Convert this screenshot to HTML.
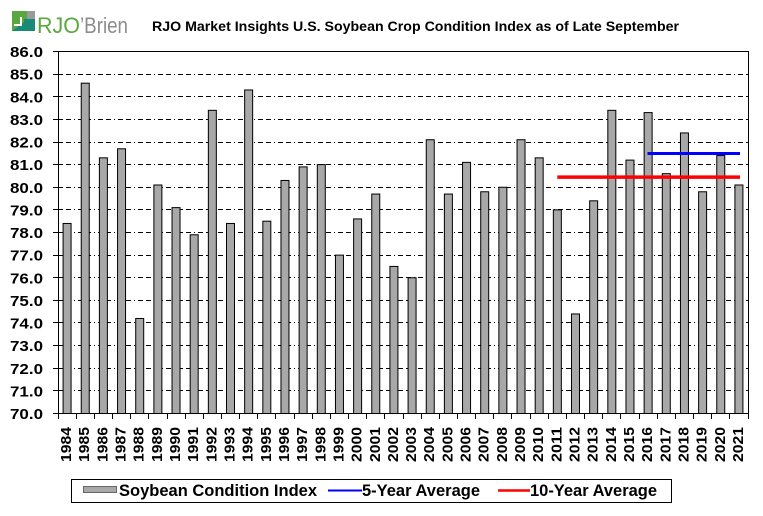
<!DOCTYPE html>
<html><head><meta charset="utf-8"><style>
html,body{margin:0;padding:0;background:#fff;}
svg{display:block;}
text{font-family:"Liberation Sans",Arial,sans-serif;}
</style></head><body>
<svg width="763" height="516" viewBox="0 0 763 516" xmlns="http://www.w3.org/2000/svg">
<rect width="763" height="516" fill="#fff"/>
<!-- logo -->
<g>
<rect x="12" y="11" width="15" height="20" fill="#5aa73f"/>
<rect x="27" y="11" width="8" height="8" fill="#9a9a9a"/>
<rect x="24" y="19" width="11" height="12" fill="#1a8a78"/>
<polygon points="12,31 24,22 24,31" fill="#1a8a78"/>
<rect x="20" y="17" width="2" height="9" fill="#fff"/>
<rect x="14" y="24" width="8" height="2" fill="#fff"/>
<text x="37" y="33" font-size="22" fill="#5aa73f" textLength="43" lengthAdjust="spacingAndGlyphs">RJO</text>
<text x="80" y="33" font-size="22" fill="#8c8c8c" textLength="48" lengthAdjust="spacingAndGlyphs">’Brien</text>
</g>
<text x="152" y="31" font-size="14.2" font-weight="bold" fill="#000" textLength="527" lengthAdjust="spacingAndGlyphs">RJO Market Insights U.S. Soybean Crop Condition Index as of Late September</text>

<!-- gridlines -->
<g stroke="#000" stroke-width="1" stroke-dasharray="5,3,5,3,1,3" shape-rendering="crispEdges">
<line x1="58" x2="748" y1="390.5" y2="390.5"/>
<line x1="58" x2="748" y1="368.5" y2="368.5"/>
<line x1="58" x2="748" y1="345.5" y2="345.5"/>
<line x1="58" x2="748" y1="322.5" y2="322.5"/>
<line x1="58" x2="748" y1="300.5" y2="300.5"/>
<line x1="58" x2="748" y1="277.5" y2="277.5"/>
<line x1="58" x2="748" y1="255.5" y2="255.5"/>
<line x1="58" x2="748" y1="232.5" y2="232.5"/>
<line x1="58" x2="748" y1="209.5" y2="209.5"/>
<line x1="58" x2="748" y1="187.5" y2="187.5"/>
<line x1="58" x2="748" y1="164.5" y2="164.5"/>
<line x1="58" x2="748" y1="142.5" y2="142.5"/>
<line x1="58" x2="748" y1="119.5" y2="119.5"/>
<line x1="58" x2="748" y1="96.5" y2="96.5"/>
<line x1="58" x2="748" y1="74.5" y2="74.5"/>
</g>
<!-- y ticks -->
<g stroke="#000" stroke-width="1" shape-rendering="crispEdges">
<line x1="53" x2="58" y1="413.5" y2="413.5"/>
<line x1="53" x2="58" y1="390.5" y2="390.5"/>
<line x1="53" x2="58" y1="368.5" y2="368.5"/>
<line x1="53" x2="58" y1="345.5" y2="345.5"/>
<line x1="53" x2="58" y1="322.5" y2="322.5"/>
<line x1="53" x2="58" y1="300.5" y2="300.5"/>
<line x1="53" x2="58" y1="277.5" y2="277.5"/>
<line x1="53" x2="58" y1="255.5" y2="255.5"/>
<line x1="53" x2="58" y1="232.5" y2="232.5"/>
<line x1="53" x2="58" y1="209.5" y2="209.5"/>
<line x1="53" x2="58" y1="187.5" y2="187.5"/>
<line x1="53" x2="58" y1="164.5" y2="164.5"/>
<line x1="53" x2="58" y1="142.5" y2="142.5"/>
<line x1="53" x2="58" y1="119.5" y2="119.5"/>
<line x1="53" x2="58" y1="96.5" y2="96.5"/>
<line x1="53" x2="58" y1="74.5" y2="74.5"/>
<line x1="53" x2="58" y1="51.5" y2="51.5"/>
</g>

<!-- bars -->
<g fill="#a8a8a8" stroke="#000" stroke-width="1">
<rect x="63.08" y="223.45" width="8" height="190.05"/>
<rect x="81.24" y="83.17" width="8" height="330.33"/>
<rect x="99.39" y="157.84" width="8" height="255.66"/>
<rect x="117.55" y="148.79" width="8" height="264.71"/>
<rect x="135.71" y="318.47" width="8" height="95.03"/>
<rect x="153.87" y="184.99" width="8" height="228.51"/>
<rect x="172.03" y="207.61" width="8" height="205.89"/>
<rect x="190.18" y="234.76" width="8" height="178.74"/>
<rect x="208.34" y="110.32" width="8" height="303.18"/>
<rect x="226.50" y="223.45" width="8" height="190.05"/>
<rect x="244.66" y="89.96" width="8" height="323.54"/>
<rect x="262.82" y="221.19" width="8" height="192.31"/>
<rect x="280.97" y="180.46" width="8" height="233.04"/>
<rect x="299.13" y="166.89" width="8" height="246.61"/>
<rect x="317.29" y="164.62" width="8" height="248.88"/>
<rect x="335.45" y="255.12" width="8" height="158.38"/>
<rect x="353.61" y="218.92" width="8" height="194.58"/>
<rect x="371.76" y="194.04" width="8" height="219.46"/>
<rect x="389.92" y="266.44" width="8" height="147.06"/>
<rect x="408.08" y="277.75" width="8" height="135.75"/>
<rect x="426.24" y="139.74" width="8" height="273.76"/>
<rect x="444.39" y="194.04" width="8" height="219.46"/>
<rect x="462.55" y="162.36" width="8" height="251.14"/>
<rect x="480.71" y="191.77" width="8" height="221.73"/>
<rect x="498.87" y="187.25" width="8" height="226.25"/>
<rect x="517.03" y="139.74" width="8" height="273.76"/>
<rect x="535.18" y="157.84" width="8" height="255.66"/>
<rect x="553.34" y="209.87" width="8" height="203.63"/>
<rect x="571.50" y="313.95" width="8" height="99.55"/>
<rect x="589.66" y="200.82" width="8" height="212.68"/>
<rect x="607.82" y="110.32" width="8" height="303.18"/>
<rect x="625.97" y="160.10" width="8" height="253.40"/>
<rect x="644.13" y="112.59" width="8" height="300.91"/>
<rect x="662.29" y="173.67" width="8" height="239.83"/>
<rect x="680.45" y="132.95" width="8" height="280.55"/>
<rect x="698.61" y="191.77" width="8" height="221.73"/>
<rect x="716.76" y="155.57" width="8" height="257.93"/>
<rect x="734.92" y="184.99" width="8" height="228.51"/>
</g>

<!-- average lines -->
<line x1="557.3" x2="740" y1="177.1" y2="177.1" stroke="#ff0000" stroke-width="3.5"/>
<line x1="647.5" x2="740" y1="153.5" y2="153.5" stroke="#0000ff" stroke-width="3"/>

<!-- frame -->
<g stroke="#000" stroke-width="1" fill="none" shape-rendering="crispEdges">
<line x1="58" x2="748" y1="51.5" y2="51.5"/>
<line x1="748.5" x2="748.5" y1="51" y2="414"/>
<line x1="58.5" x2="58.5" y1="51" y2="414"/>
<line x1="58" x2="749" y1="413.5" y2="413.5"/>
</g>
<!-- x ticks -->
<g stroke="#000" stroke-width="1" shape-rendering="crispEdges">
<line x1="58.5" x2="58.5" y1="413" y2="419"/>
<line x1="76.5" x2="76.5" y1="413" y2="419"/>
<line x1="94.5" x2="94.5" y1="413" y2="419"/>
<line x1="112.5" x2="112.5" y1="413" y2="419"/>
<line x1="130.5" x2="130.5" y1="413" y2="419"/>
<line x1="148.5" x2="148.5" y1="413" y2="419"/>
<line x1="167.5" x2="167.5" y1="413" y2="419"/>
<line x1="185.5" x2="185.5" y1="413" y2="419"/>
<line x1="203.5" x2="203.5" y1="413" y2="419"/>
<line x1="221.5" x2="221.5" y1="413" y2="419"/>
<line x1="239.5" x2="239.5" y1="413" y2="419"/>
<line x1="257.5" x2="257.5" y1="413" y2="419"/>
<line x1="275.5" x2="275.5" y1="413" y2="419"/>
<line x1="294.5" x2="294.5" y1="413" y2="419"/>
<line x1="312.5" x2="312.5" y1="413" y2="419"/>
<line x1="330.5" x2="330.5" y1="413" y2="419"/>
<line x1="348.5" x2="348.5" y1="413" y2="419"/>
<line x1="366.5" x2="366.5" y1="413" y2="419"/>
<line x1="384.5" x2="384.5" y1="413" y2="419"/>
<line x1="403.5" x2="403.5" y1="413" y2="419"/>
<line x1="421.5" x2="421.5" y1="413" y2="419"/>
<line x1="439.5" x2="439.5" y1="413" y2="419"/>
<line x1="457.5" x2="457.5" y1="413" y2="419"/>
<line x1="475.5" x2="475.5" y1="413" y2="419"/>
<line x1="493.5" x2="493.5" y1="413" y2="419"/>
<line x1="511.5" x2="511.5" y1="413" y2="419"/>
<line x1="530.5" x2="530.5" y1="413" y2="419"/>
<line x1="548.5" x2="548.5" y1="413" y2="419"/>
<line x1="566.5" x2="566.5" y1="413" y2="419"/>
<line x1="584.5" x2="584.5" y1="413" y2="419"/>
<line x1="602.5" x2="602.5" y1="413" y2="419"/>
<line x1="620.5" x2="620.5" y1="413" y2="419"/>
<line x1="639.5" x2="639.5" y1="413" y2="419"/>
<line x1="657.5" x2="657.5" y1="413" y2="419"/>
<line x1="675.5" x2="675.5" y1="413" y2="419"/>
<line x1="693.5" x2="693.5" y1="413" y2="419"/>
<line x1="711.5" x2="711.5" y1="413" y2="419"/>
<line x1="729.5" x2="729.5" y1="413" y2="419"/>
<line x1="748.5" x2="748.5" y1="413" y2="419"/>
</g>

<!-- y labels -->
<g font-size="15" font-weight="bold" fill="#000" text-anchor="end">
<text x="43" y="419" textLength="33" lengthAdjust="spacingAndGlyphs">70.0</text>
<text x="43" y="396.4" textLength="33" lengthAdjust="spacingAndGlyphs">71.0</text>
<text x="43" y="373.8" textLength="33" lengthAdjust="spacingAndGlyphs">72.0</text>
<text x="43" y="351.1" textLength="33" lengthAdjust="spacingAndGlyphs">73.0</text>
<text x="43" y="328.5" textLength="33" lengthAdjust="spacingAndGlyphs">74.0</text>
<text x="43" y="305.9" textLength="33" lengthAdjust="spacingAndGlyphs">75.0</text>
<text x="43" y="283.3" textLength="33" lengthAdjust="spacingAndGlyphs">76.0</text>
<text x="43" y="260.6" textLength="33" lengthAdjust="spacingAndGlyphs">77.0</text>
<text x="43" y="238" textLength="33" lengthAdjust="spacingAndGlyphs">78.0</text>
<text x="43" y="215.4" textLength="33" lengthAdjust="spacingAndGlyphs">79.0</text>
<text x="43" y="192.8" textLength="33" lengthAdjust="spacingAndGlyphs">80.0</text>
<text x="43" y="170.1" textLength="33" lengthAdjust="spacingAndGlyphs">81.0</text>
<text x="43" y="147.5" textLength="33" lengthAdjust="spacingAndGlyphs">82.0</text>
<text x="43" y="124.9" textLength="33" lengthAdjust="spacingAndGlyphs">83.0</text>
<text x="43" y="102.3" textLength="33" lengthAdjust="spacingAndGlyphs">84.0</text>
<text x="43" y="79.6" textLength="33" lengthAdjust="spacingAndGlyphs">85.0</text>
<text x="43" y="57" textLength="33" lengthAdjust="spacingAndGlyphs">86.0</text>
</g>

<!-- x labels -->
<g font-size="15" font-weight="bold" fill="#000" text-anchor="end">
<text transform="translate(71.08,427) rotate(-90)" textLength="35" lengthAdjust="spacingAndGlyphs">1984</text>
<text transform="translate(89.24,427) rotate(-90)" textLength="35" lengthAdjust="spacingAndGlyphs">1985</text>
<text transform="translate(107.39,427) rotate(-90)" textLength="35" lengthAdjust="spacingAndGlyphs">1986</text>
<text transform="translate(125.55,427) rotate(-90)" textLength="35" lengthAdjust="spacingAndGlyphs">1987</text>
<text transform="translate(143.71,427) rotate(-90)" textLength="35" lengthAdjust="spacingAndGlyphs">1988</text>
<text transform="translate(161.87,427) rotate(-90)" textLength="35" lengthAdjust="spacingAndGlyphs">1989</text>
<text transform="translate(180.03,427) rotate(-90)" textLength="35" lengthAdjust="spacingAndGlyphs">1990</text>
<text transform="translate(198.18,427) rotate(-90)" textLength="35" lengthAdjust="spacingAndGlyphs">1991</text>
<text transform="translate(216.34,427) rotate(-90)" textLength="35" lengthAdjust="spacingAndGlyphs">1992</text>
<text transform="translate(234.50,427) rotate(-90)" textLength="35" lengthAdjust="spacingAndGlyphs">1993</text>
<text transform="translate(252.66,427) rotate(-90)" textLength="35" lengthAdjust="spacingAndGlyphs">1994</text>
<text transform="translate(270.82,427) rotate(-90)" textLength="35" lengthAdjust="spacingAndGlyphs">1995</text>
<text transform="translate(288.97,427) rotate(-90)" textLength="35" lengthAdjust="spacingAndGlyphs">1996</text>
<text transform="translate(307.13,427) rotate(-90)" textLength="35" lengthAdjust="spacingAndGlyphs">1997</text>
<text transform="translate(325.29,427) rotate(-90)" textLength="35" lengthAdjust="spacingAndGlyphs">1998</text>
<text transform="translate(343.45,427) rotate(-90)" textLength="35" lengthAdjust="spacingAndGlyphs">1999</text>
<text transform="translate(361.61,427) rotate(-90)" textLength="35" lengthAdjust="spacingAndGlyphs">2000</text>
<text transform="translate(379.76,427) rotate(-90)" textLength="35" lengthAdjust="spacingAndGlyphs">2001</text>
<text transform="translate(397.92,427) rotate(-90)" textLength="35" lengthAdjust="spacingAndGlyphs">2002</text>
<text transform="translate(416.08,427) rotate(-90)" textLength="35" lengthAdjust="spacingAndGlyphs">2003</text>
<text transform="translate(434.24,427) rotate(-90)" textLength="35" lengthAdjust="spacingAndGlyphs">2004</text>
<text transform="translate(452.39,427) rotate(-90)" textLength="35" lengthAdjust="spacingAndGlyphs">2005</text>
<text transform="translate(470.55,427) rotate(-90)" textLength="35" lengthAdjust="spacingAndGlyphs">2006</text>
<text transform="translate(488.71,427) rotate(-90)" textLength="35" lengthAdjust="spacingAndGlyphs">2007</text>
<text transform="translate(506.87,427) rotate(-90)" textLength="35" lengthAdjust="spacingAndGlyphs">2008</text>
<text transform="translate(525.03,427) rotate(-90)" textLength="35" lengthAdjust="spacingAndGlyphs">2009</text>
<text transform="translate(543.18,427) rotate(-90)" textLength="35" lengthAdjust="spacingAndGlyphs">2010</text>
<text transform="translate(561.34,427) rotate(-90)" textLength="35" lengthAdjust="spacingAndGlyphs">2011</text>
<text transform="translate(579.50,427) rotate(-90)" textLength="35" lengthAdjust="spacingAndGlyphs">2012</text>
<text transform="translate(597.66,427) rotate(-90)" textLength="35" lengthAdjust="spacingAndGlyphs">2013</text>
<text transform="translate(615.82,427) rotate(-90)" textLength="35" lengthAdjust="spacingAndGlyphs">2014</text>
<text transform="translate(633.97,427) rotate(-90)" textLength="35" lengthAdjust="spacingAndGlyphs">2015</text>
<text transform="translate(652.13,427) rotate(-90)" textLength="35" lengthAdjust="spacingAndGlyphs">2016</text>
<text transform="translate(670.29,427) rotate(-90)" textLength="35" lengthAdjust="spacingAndGlyphs">2017</text>
<text transform="translate(688.45,427) rotate(-90)" textLength="35" lengthAdjust="spacingAndGlyphs">2018</text>
<text transform="translate(706.61,427) rotate(-90)" textLength="35" lengthAdjust="spacingAndGlyphs">2019</text>
<text transform="translate(724.76,427) rotate(-90)" textLength="35" lengthAdjust="spacingAndGlyphs">2020</text>
<text transform="translate(742.92,427) rotate(-90)" textLength="35" lengthAdjust="spacingAndGlyphs">2021</text>
</g>

<!-- legend -->
<rect x="71.5" y="479.5" width="600" height="23" fill="#fff" stroke="#000" stroke-width="1" shape-rendering="crispEdges"/>
<rect x="83.5" y="486.5" width="33" height="6" fill="#a8a8a8" stroke="#666" stroke-width="1" shape-rendering="crispEdges"/>
<g font-size="16.5" font-weight="bold" fill="#000">
<text x="119" y="496" textLength="198" lengthAdjust="spacingAndGlyphs">Soybean Condition Index</text>
<text x="362" y="496" textLength="118" lengthAdjust="spacingAndGlyphs">5-Year Average</text>
<text x="530" y="496" textLength="127" lengthAdjust="spacingAndGlyphs">10-Year Average</text>
</g>
<line x1="328" x2="362" y1="490.5" y2="490.5" stroke="#0000ff" stroke-width="2"/>
<line x1="498" x2="530" y1="490.5" y2="490.5" stroke="#ff0000" stroke-width="2.5"/>
</svg>
</body></html>
